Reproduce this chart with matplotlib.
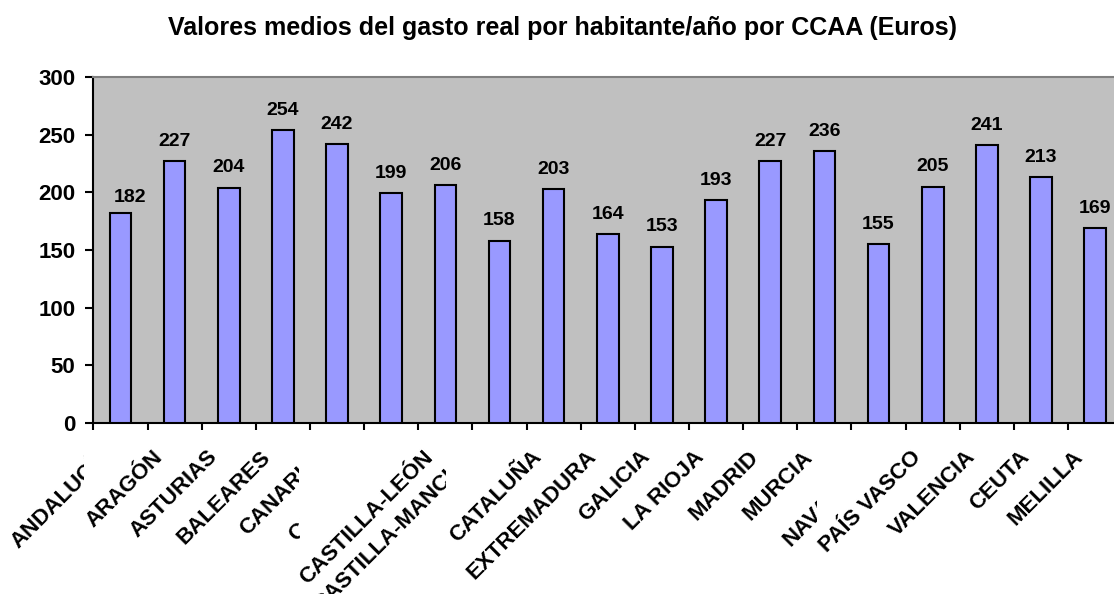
import numpy as np
import matplotlib
matplotlib.use('Agg')
import matplotlib.pyplot as plt
from matplotlib.transforms import Bbox, TransformedBbox, blended_transform_factory

regions = ['ANDALUCÍA', 'ARAGÓN', 'ASTURIAS', 'BALEARES', 'CANARIAS', 'CANTABRIA',
           'CASTILLA-LEÓN', 'CASTILLA-MANCHA', 'CATALUÑA', 'EXTREMADURA', 'GALICIA',
           'LA RIOJA', 'MADRID', 'MURCIA', 'NAVARRA', 'PAÍS VASCO', 'VALENCIA',
           'CEUTA', 'MELILLA']
gasto = [182, 227, 204, 254, 242, 199, 206, 158, 203, 164, 153, 193, 227, 236,
         155, 205, 241, 213, 169]
y_ticks = [0, 50, 100, 150, 200, 250, 300]
title = 'Valores medios del gasto real por habitante/año por CCAA (Euros)'

# Excel cut some long labels where they ran into the next one (x in data units)
label_cut = {'ANDALUCÍA': -0.67, 'CANARIAS': 3.30, 'CANTABRIA': 3.32,
             'CASTILLA-MANCHA': 6.01, 'NAVARRA': 12.86}
# a few labels sit a bit off the common line (points)
label_shift = {'ANDALUCÍA': (2, 2), 'CANARIAS': (3.5, 3.5), 'CANTABRIA': (6, 6),
               'CASTILLA-MANCHA': (-10, -1), 'NAVARRA': (0, -9)}

plt.rcParams['font.family'] = ['Liberation Sans', 'DejaVu Sans']
plt.rcParams['font.weight'] = 'bold'

fig = plt.figure(figsize=(11.14, 5.94), dpi=100)
ax = fig.add_axes([0.0838, 0.2879, 0.9236, 0.5825])
ax.set_facecolor('#C0C0C0')

x = np.arange(len(regions))
ax.bar(x, gasto, width=0.4, color='#9999FF', edgecolor='black', linewidth=1.5, zorder=3)

for i, v in enumerate(gasto):
    # the first value label is pushed off the axis a little in the original
    dx, dy = (7, -3) if i == 0 else (0, 0)
    ax.annotate(str(v), xy=(x[i], v), xytext=(dx, 11 + dy), textcoords='offset points',
                ha='center', va='baseline', fontsize=14, fontweight='bold')

ax.set_xlim(-0.5, len(regions) - 0.5)
ax.set_ylim(0, 300)
ax.set_yticks(y_ticks)
ax.set_yticklabels([str(t) for t in y_ticks], fontsize=16, fontweight='bold')
ax.set_xticks(np.arange(-0.5, len(regions), 1.0))
ax.set_xticklabels([])
ax.tick_params(axis='y', direction='out', length=6, width=1.5, pad=7)
ax.tick_params(axis='x', direction='out', length=5, width=1.5)

ax.spines['left'].set_linewidth(1.5)
ax.spines['bottom'].set_linewidth(1.5)
ax.spines['top'].set_color('#808080')
ax.spines['top'].set_linewidth(1.5)
ax.spines['right'].set_visible(False)

clip_tf = blended_transform_factory(ax.transData, fig.transFigure)
for xi, name in zip(x, regions):
    dx, dy = label_shift.get(name, (0, 0))
    t = ax.annotate(name, xy=(xi, 0), xycoords=('data', 'axes fraction'),
                    xytext=(-8 + dx, -25 + dy), textcoords='offset points',
                    rotation=45, rotation_mode='anchor', ha='right', va='baseline',
                    fontsize=16, fontweight='bold', annotation_clip=False)
    if name in label_cut:
        t.set_clip_box(TransformedBbox(Bbox([[-5, 0], [label_cut[name], 1]]), clip_tf))

fig.text(563 / 1114, 1 - 28 / 594, title, ha='center', va='center', fontsize=18, fontweight='bold')

fig.savefig('out.png', dpi=100)
